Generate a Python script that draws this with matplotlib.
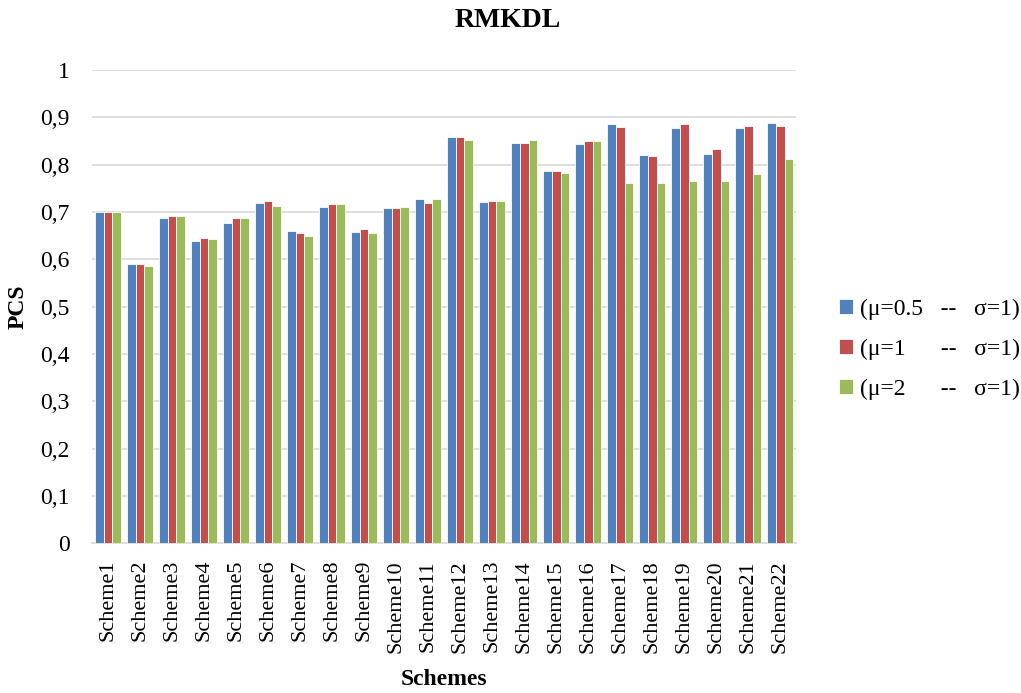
import numpy as np
import matplotlib.pyplot as plt
from matplotlib.ticker import FuncFormatter

plt.rcParams['font.family'] = ['Liberation Serif', 'DejaVu Serif']

schemes = ['Scheme%d' % i for i in range(1, 23)]
series_labels = ['(\u03bc=0.5   --   \u03c3=1)',
                 '(\u03bc=1      --   \u03c3=1)',
                 '(\u03bc=2      --   \u03c3=1)']
mu_05 = [0.700, 0.591, 0.688, 0.639, 0.677, 0.719, 0.659, 0.710, 0.658, 0.708, 0.727,
         0.859, 0.722, 0.846, 0.787, 0.844, 0.885, 0.820, 0.878, 0.823, 0.877, 0.889]
mu_1 = [0.701, 0.591, 0.691, 0.646, 0.688, 0.724, 0.656, 0.716, 0.665, 0.709, 0.719,
        0.858, 0.724, 0.846, 0.786, 0.849, 0.880, 0.818, 0.885, 0.833, 0.882, 0.882]
mu_2 = [0.700, 0.585, 0.691, 0.643, 0.688, 0.713, 0.650, 0.716, 0.656, 0.711, 0.728,
        0.852, 0.723, 0.853, 0.783, 0.849, 0.761, 0.761, 0.766, 0.766, 0.781, 0.811]
colors = ['#4F81BD', '#C0504D', '#9BBB59']

fig = plt.figure(figsize=(10.21, 6.93), dpi=100)
ax = fig.add_axes([0.090, 0.216, 0.690, 0.683])

x = np.arange(len(schemes))
w = 0.27
for i, vals in enumerate([mu_05, mu_1, mu_2]):
    ax.bar(x + (i - 1) * w, vals, width=w, color=colors[i], edgecolor='white',
           linewidth=0.6, label=series_labels[i], zorder=3)

ax.set_xlim(-0.5, len(schemes) - 0.5)
ax.set_ylim(0, 1)
ax.set_yticks(np.arange(0, 1.01, 0.1))
ax.yaxis.set_major_formatter(FuncFormatter(lambda v, p: ('%g' % round(v, 1)).replace('.', ',')))
ax.grid(axis='y', color='#D9D9D9', linewidth=1.2, zorder=0)
for s in ['top', 'right', 'left']:
    ax.spines[s].set_visible(False)
ax.spines['bottom'].set_color('#D9D9D9')
ax.spines['bottom'].set_linewidth(1.2)
ax.tick_params(length=0, labelsize=17)
ax.tick_params(axis='y', pad=16)
ax.tick_params(axis='x', pad=12, labelsize=16)
ax.set_xticks(x)
ax.set_xticklabels(schemes, rotation=90)

fig.suptitle('RMKDL', x=0.497, y=0.971, va='center', fontsize=20, fontweight='bold')
ax.set_ylabel('PCS', fontsize=17, fontweight='bold', labelpad=8)
ax.set_xlabel('Schemes', fontsize=17, fontweight='bold', labelpad=12)

ax.legend(loc='center left', bbox_to_anchor=(1.03, 0.41), frameon=False,
          fontsize=17, handlelength=0.6, handleheight=0.6, handletextpad=0.3,
          labelspacing=0.8)

fig.savefig('out.png', dpi=100)
